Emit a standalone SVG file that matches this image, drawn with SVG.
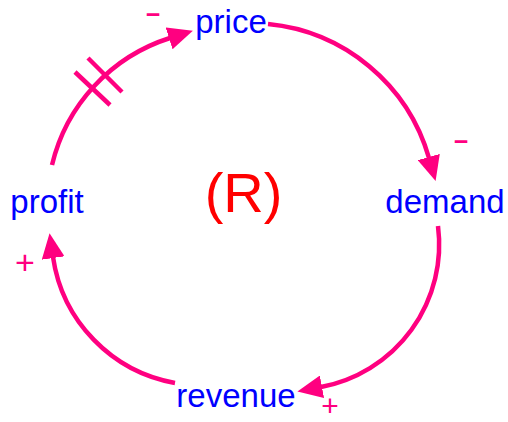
<svg xmlns="http://www.w3.org/2000/svg" width="508" height="422" viewBox="0 0 508 422">
<style>
.lbl{font-family:"Liberation Sans",Arial,sans-serif;font-size:33px;fill:#0000FF;text-anchor:middle}
.link{fill:none;stroke:#FF0080;stroke-width:4.5;marker-end:url(#arr)}
.hatch{stroke:#FF0080;stroke-width:4.5}
.pol{font-family:"Liberation Sans",Arial,sans-serif;fill:#FF0080;text-anchor:middle}
.minus{font-size:25px;font-weight:bold}
.plus{font-size:34px}
.plus2{font-size:30px}
.loop{font-family:"Liberation Sans",Arial,sans-serif;font-size:56px;fill:#FF0000;text-anchor:middle}
</style>
<defs>
<marker id="arr" markerUnits="userSpaceOnUse" viewBox="0 0 25 23" refX="1" refY="11.5" markerWidth="25" markerHeight="23" orient="auto">
<path d="M0,0 L25,11.5 L0,23 z" fill="#FF0080"/>
</marker>
</defs>
<g id="connectors">
<path class="link" d="M268,24 A186,186 0 0,1 429,158"/>
<path class="link" d="M438,226 A145,145 0 0,1 321,387"/>
<path class="link" d="M175,383 A150,150 0 0,1 53,257"/>
<path class="link" d="M52,165 A176,176 0 0,1 170,38"/>
<line class="hatch" x1="75" y1="72" x2="110" y2="105"/>
<line class="hatch" x1="88" y1="58" x2="122" y2="92"/>
<text class="pol minus" x="153" y="23">−</text>
<text class="pol minus" x="461" y="150">−</text>
<text class="pol plus" x="25" y="274">+</text>
<text class="pol plus2" x="330" y="415.5">+</text>
</g>
<g id="price"><text class="lbl" x="231" y="33">price</text></g>
<g id="demand"><text class="lbl" x="445" y="213">demand</text></g>
<g id="revenue"><text class="lbl" x="236" y="407">revenue</text></g>
<g id="profit"><text class="lbl" x="47" y="212.5">profit</text></g>
<g id="loop"><text class="loop" x="243.5" y="211.7">(R)</text></g>
</svg>
